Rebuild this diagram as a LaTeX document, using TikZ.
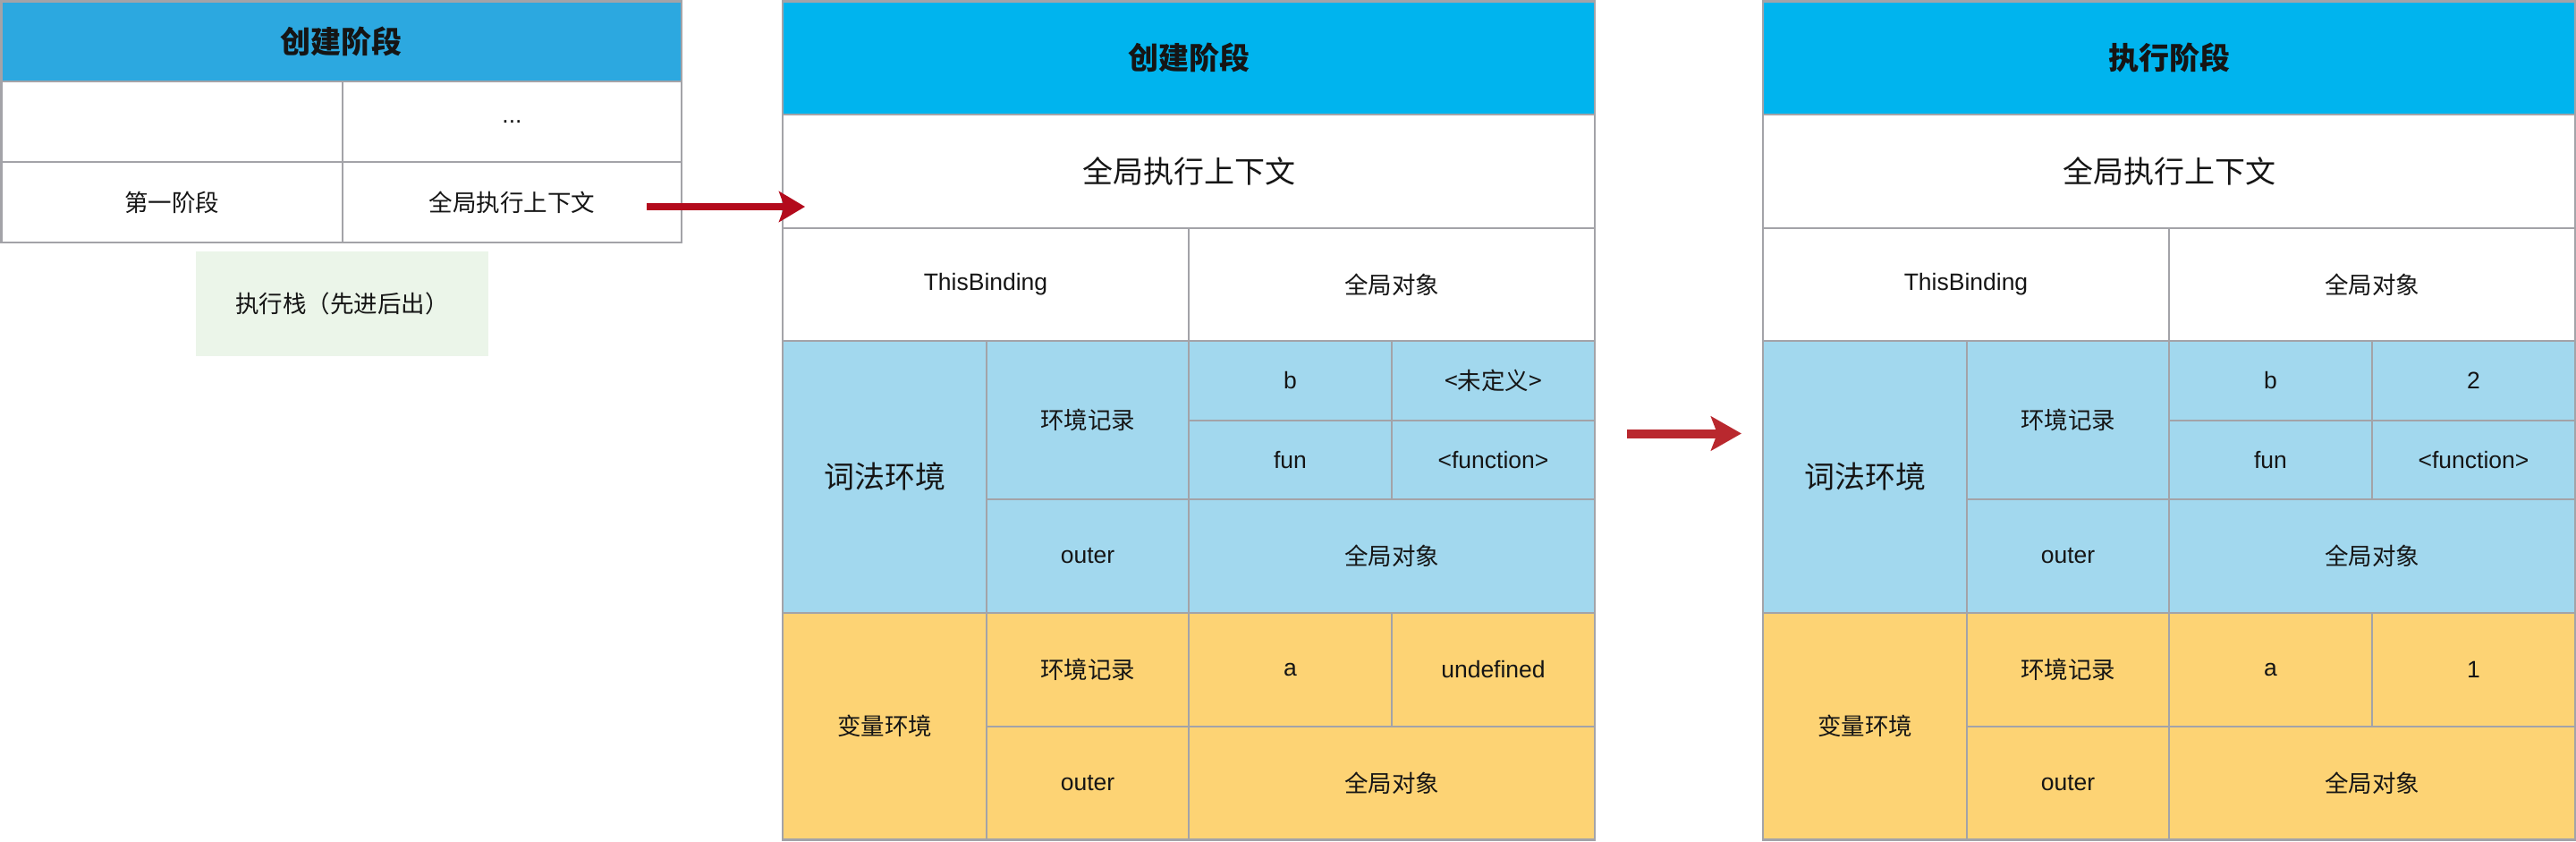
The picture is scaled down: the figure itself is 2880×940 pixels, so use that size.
\documentclass[tikz,border=0pt]{standalone}
\usepackage{fontspec}
\setmainfont{Liberation Sans}
\newfontfamily\cjk{Noto Sans CJK SC}
\usetikzlibrary{arrows.meta}
\definecolor{hdrA}{HTML}{2CA8E0}
\definecolor{hdrB}{HTML}{00B4EE}
\definecolor{lexblue}{HTML}{A2D8EE}
\definecolor{varyel}{HTML}{FDD374}
\definecolor{stackgreen}{HTML}{EBF5E9}
\definecolor{gridc}{HTML}{A3A3A8}
\definecolor{txt}{HTML}{151515}
\definecolor{arrA}{HTML}{B30A1C}
\definecolor{arrB}{HTML}{B9282E}
\tikzset{
  cell/.style={draw=gridc, line width=2.5pt, inner sep=0pt, outer sep=0pt, text=txt, align=center},
  smc/.style={font=\cjk\fontsize{26.5}{32}\selectfont},
  sml/.style={font=\fontsize{26.5}{32}\selectfont},
  lgc/.style={font=\cjk\fontsize{34}{40}\selectfont},
  hdc/.style={font=\cjk\bfseries\fontsize{34}{40}\selectfont},
  wht/.style={fill=white},
  blu/.style={fill=lexblue},
  yel/.style={fill=varyel},
  arrowA/.style={draw=arrA, line width=8pt, -{Stealth[length=29pt,width=34pt,inset=6pt,fill=arrA]}},
  arrowB/.style={draw=arrB, line width=10pt, -{Stealth[length=34pt,width=38pt,inset=7pt,fill=arrB]}},
}
\newcommand\cellat[7]{%
  \node[cell,#6,minimum width={(#4-#2)*1pt},minimum height={(#5-#3)*1pt}] (#1) at ({(#2+#4)/2},{(#3+#5)/2}) {#7};}
\newcommand\ctable[6]{% prefix, left x, header text, style of b value, b value, a value
  \pgfmathsetmacro\cA{#2}
  \pgfmathsetmacro\cB{#2+228}
  \pgfmathsetmacro\cC{#2+454}
  \pgfmathsetmacro\cD{#2+681}
  \pgfmathsetmacro\cE{#2+908}
  \cellat{#1hdr}{\cA}{1.5}{\cE}{128}{fill=hdrB,hdc}{#3}
  \cellat{#1ctx}{\cA}{128}{\cE}{255}{wht,lgc}{全局执行上下文}
  \cellat{#1tb}{\cA}{255}{\cC}{381}{wht,sml}{ThisBinding}
  \cellat{#1tbv}{\cC}{255}{\cE}{381}{wht,smc}{全局对象}
  \cellat{#1lex}{\cA}{381}{\cB}{685}{blu,lgc}{词法环境}
  \cellat{#1ler}{\cB}{381}{\cC}{558}{blu,smc}{环境记录}
  \cellat{#1lb}{\cC}{381}{\cD}{470}{blu,sml}{b}
  \cellat{#1lbv}{\cD}{381}{\cE}{470}{blu,#4}{#5}
  \cellat{#1lf}{\cC}{470}{\cD}{558}{blu,sml}{fun}
  \cellat{#1lfv}{\cD}{470}{\cE}{558}{blu,sml}{<function>}
  \cellat{#1lo}{\cB}{558}{\cC}{685}{blu,sml}{outer}
  \cellat{#1lov}{\cC}{558}{\cE}{685}{blu,smc}{全局对象}
  \cellat{#1var}{\cA}{685}{\cB}{938.5}{yel,smc}{变量环境}
  \cellat{#1ver}{\cB}{685}{\cC}{812}{yel,smc}{环境记录}
  \cellat{#1va}{\cC}{685}{\cD}{812}{yel,sml}{a}
  \cellat{#1vav}{\cD}{685}{\cE}{812}{yel,sml}{#6}
  \cellat{#1vo}{\cB}{812}{\cC}{938.5}{yel,sml}{outer}
  \cellat{#1vov}{\cC}{812}{\cE}{938.5}{yel,smc}{全局对象}
}
\begin{document}
\begin{tikzpicture}[x=1pt,y=-1pt]
\useasboundingbox (0,0) rectangle (2880,940);
% left stack
\cellat{shdr}{1.5}{1.5}{762}{91}{fill=hdrA,hdc}{创建阶段}
\cellat{sa}{1.5}{91}{383}{181}{wht,sml}{}
\cellat{sb}{383}{91}{762}{181}{wht,sml}{...}
\cellat{sc}{1.5}{181}{383}{271}{wht,smc}{第一阶段}
\cellat{sd}{383}{181}{762}{271}{wht,smc}{全局执行上下文}
\node[fill=stackgreen, inner sep=0pt, text=txt, font=\cjk\fontsize{26.5}{32}\selectfont,
  minimum width=327pt, minimum height=117pt] (stack) at (382.5,339.5) {执行栈（先进后出）};
% middle & right tables
\ctable{m}{875}{创建阶段}{smc}{<未定义>}{undefined}
\ctable{r}{1971}{执行阶段}{sml}{2}{1}
% arrows
\coordinate (a1s) at (723,231);
\coordinate (a1e) at (900,231);
\draw[arrowA] (a1s) -- (a1e);
\coordinate (a2s) at (1819,484.5);
\coordinate (a2e) at (1947,484.5);
\draw[arrowB] (a2s) -- (a2e);
\end{tikzpicture}
\end{document}
